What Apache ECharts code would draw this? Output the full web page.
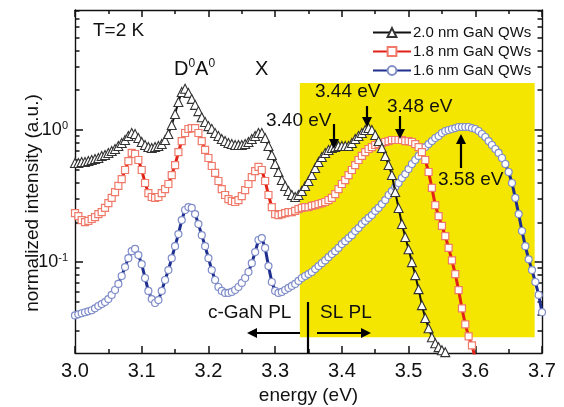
<!DOCTYPE html>
<html>
<head>
<meta charset="utf-8">
<script src="https://cdn.jsdelivr.net/npm/echarts@6/dist/echarts.min.js"></script>
<style>
html,body{margin:0;padding:0;background:#fff;}
#chart{width:564px;height:407px;}
</style>
</head>
<body>
<div id="chart"></div>
<script>
// ---- data ----
const seriesNames = ['2.0 nm GaN QWs', '1.8 nm GaN QWs', '1.6 nm GaN QWs'];
const energyStart = 3.0;   // eV, first sample
const energyStep = 0.005;  // eV, sample spacing
const xTickLabels = ['3.0','3.1','3.2','3.3','3.4','3.5','3.6','3.7'];
const yTickLabels = {0.1: '10{s|-1}', 1: '10{s|0}'};
const yMajorTicks = [0.1, 1];

// 2.0 nm GaN QWs, 3.000 ... 3.560 eV
const qw20 = [0.562,0.562,0.573,0.573,0.582,0.593,0.603,0.614,0.636,0.647,
  0.670,0.693,0.718,0.756,0.797,0.840,0.901,0.949,0.933,0.870,
  0.811,0.770,0.743,0.731,0.743,0.756,0.783,0.840,0.933,1.09,
  1.32,1.63,1.94,2.05,1.91,1.72,1.55,1.39,1.25,1.15,
  1.07,1.02,0.949,0.901,0.855,0.825,0.797,0.783,0.770,0.770,
  0.770,0.783,0.811,0.855,0.901,0.949,0.949,0.870,0.756,0.647,
  0.553,0.481,0.418,0.377,0.345,0.322,0.311,0.322,0.345,0.377,
  0.411,0.456,0.515,0.573,0.624,0.670,0.706,0.731,0.743,0.756,
  0.756,0.756,0.756,0.797,0.855,0.901,0.949,1.0,1.035,1.0,
  0.917,0.825,0.731,0.636,0.543,0.456,0.339,0.257,0.194,0.155,
  0.125,0.100,0.0797,0.0624,0.0472,0.0377,0.0316,0.0270,0.0243,0.0227,
  0.0215,0.0208,0.0197];
// 1.8 nm GaN QWs, 3.000 ... 3.600 eV
const qw18 = [0.235,0.223,0.208,0.201,0.205,0.212,0.219,0.231,0.239,0.257,
  0.280,0.306,0.339,0.377,0.425,0.498,0.582,0.670,0.658,0.593,
  0.498,0.397,0.333,0.311,0.306,0.311,0.333,0.357,0.390,0.456,
  0.543,0.681,0.825,0.949,1.018,1.035,1.035,0.949,0.825,0.706,
  0.614,0.534,0.473,0.411,0.357,0.322,0.300,0.290,0.285,0.295,
  0.316,0.351,0.390,0.440,0.489,0.525,0.498,0.411,0.322,0.261,
  0.231,0.227,0.231,0.235,0.239,0.239,0.244,0.252,0.257,0.261,
  0.261,0.266,0.270,0.275,0.280,0.285,0.295,0.306,0.327,0.357,
  0.390,0.418,0.456,0.498,0.543,0.593,0.636,0.681,0.718,0.743,
  0.770,0.783,0.797,0.811,0.825,0.840,0.840,0.840,0.840,0.825,
  0.825,0.811,0.783,0.743,0.681,0.593,0.481,0.364,0.270,0.223,
  0.188,0.157,0.128,0.103,0.0812,0.0614,0.0446,0.0338,0.0274,0.0234,
  0.0187];
// 1.6 nm GaN QWs, 3.000 ... 3.700 eV
const qw16 = [0.0395,0.0402,0.0410,0.0417,0.0424,0.0432,0.0447,0.0465,0.0481,0.0498,
  0.0525,0.0564,0.0615,0.0683,0.0785,0.0917,0.107,0.121,0.126,0.113,
  0.0965,0.0758,0.0605,0.0525,0.0490,0.0516,0.0605,0.0732,0.0870,0.107,
  0.132,0.163,0.208,0.248,0.261,0.257,0.231,0.194,0.160,0.132,
  0.107,0.0870,0.0732,0.0648,0.0605,0.0584,0.0584,0.0594,0.0615,0.0648,
  0.0695,0.0758,0.0841,0.0982,0.119,0.147,0.152,0.128,0.0933,0.0707,
  0.0605,0.0584,0.0594,0.0615,0.0637,0.0660,0.0683,0.0720,0.0758,0.0785,
  0.0812,0.0841,0.0886,0.0933,0.0982,0.103,0.109,0.115,0.121,0.128,
  0.137,0.144,0.152,0.160,0.172,0.181,0.194,0.205,0.216,0.227,
  0.244,0.257,0.275,0.295,0.322,0.345,0.370,0.397,0.433,0.464,
  0.506,0.553,0.593,0.636,0.693,0.743,0.783,0.825,0.870,0.901,
  0.949,0.983,1.000,1.018,1.035,1.054,1.054,1.054,1.054,1.035,
  1.018,0.983,0.933,0.885,0.825,0.770,0.718,0.670,0.614,0.553,
  0.481,0.397,0.306,0.231,0.172,0.132,0.105,0.0870,0.0707,0.0564,
  0.0417];
// shaded "SL PL" region (energy range, intensity range)
const slRegionE = [3.337, 3.689];
const slRegionI = [0.027, 2.27];

function toPairs(vals) {
  return vals.map((v, i) => [+(energyStart + i * energyStep).toFixed(3), v]);
}

const FONT = '"Liberation Sans", Arial, sans-serif';
const AXC = '#111';
const chart = echarts.init(document.getElementById('chart'), null, {renderer: 'canvas'});

function xAxisCfg(pos, showLabel) {
  return {
    type: 'value', position: pos, min: 3.0, max: 3.7, interval: 0.1,
    axisLine: {show: true, onZero: false, lineStyle: {color: AXC, width: 1.4}},
    axisTick: {show: true, inside: true, length: 7, lineStyle: {color: AXC, width: 1.5}},
    minorTick: {show: true, splitNumber: 2, length: 4, lineStyle: {color: AXC, width: 1.5}},
    splitLine: {show: false},
    axisLabel: {show: showLabel, margin: 8, fontSize: 20, color: AXC, fontFamily: FONT,
      formatter: v => { const i = Math.round((v - 3.0) * 10); return xTickLabels[i] || ''; }},
    name: showLabel ? 'energy (eV)' : '', nameLocation: 'middle', nameGap: 27,
    nameTextStyle: {fontSize: 19, color: AXC, fontFamily: FONT}
  };
}
function yAxisCfg(pos, showLabel) {
  return {
    type: 'log', logBase: 10, position: pos, min: 0.0205, max: 8.1,
    axisLine: {show: true, onZero: false, lineStyle: {color: AXC, width: 1.4}},
    axisTick: {show: true, inside: true, length: 8, customValues: yMajorTicks, lineStyle: {color: AXC, width: 1.5}},
    minorTick: {show: true, splitNumber: 9, length: 4.5, lineStyle: {color: AXC, width: 1.5}},
    splitLine: {show: false}, minorSplitLine: {show: false},
    axisLabel: {show: showLabel, margin: 7, fontSize: 18, color: AXC, fontFamily: FONT,
      customValues: yMajorTicks,
      formatter: v => {
        const l = Math.log10(v);
        if (Math.abs(l - Math.round(l)) > 1e-6) return '';
        const k = Math.pow(10, Math.round(l));
        return yTickLabels[k] || '';
      },
      rich: {s: {fontSize: 11, fontFamily: FONT, color: AXC, verticalAlign: 'top', padding: [0, 0, 9, 0]}}
    }
  };
}

function arrow(x1, y1, x2, y2) {
  const ang = Math.atan2(y2 - y1, x2 - x1);
  const L = 10, W = 5;
  const bx = x2 - L * Math.cos(ang), by = y2 - L * Math.sin(ang);
  const px = -Math.sin(ang) * W, py = Math.cos(ang) * W;
  return [
    {type: 'line', z: 100, shape: {x1: x1, y1: y1, x2: bx, y2: by}, style: {stroke: '#000', lineWidth: 2.2}},
    {type: 'polygon', z: 100, shape: {points: [[x2, y2], [bx + px, by + py], [bx - px, by - py]]}, style: {fill: '#000'}}
  ];
}
function label(text, x, y, size, extra) {
  return Object.assign({type: 'text', z: 100, x: x, y: y,
    style: Object.assign({text: text, fill: '#111', font: size + 'px ' + FONT, textVerticalAlign: 'middle'}, extra || {})});
}

const graphics = [
  label('T=2 K', 93, 31, 19),
  {type: 'text', z: 100, x: 174, y: 69, style: {text: 'D{s|0}A{s|0}', fill: '#111', font: '20px ' + FONT, textVerticalAlign: 'middle',
     rich: {s: {fontSize: 12, fontFamily: FONT, fill: '#111', verticalAlign: 'top', padding: [0, 0, 10, 0]}}}},
  label('X', 255, 69, 20),
  label('3.40 eV', 266, 121, 19),
  label('3.44 eV', 315, 92, 19),
  label('3.48 eV', 387, 107, 19),
  label('3.58 eV', 438, 180, 19),
  label('c-GaN PL', 208, 313, 19),
  label('SL PL', 320, 313, 19),
  {type: 'text', z: 100, x: 33, y: 203, rotation: Math.PI / 2,
    style: {text: 'normalized intensity (a.u.)', fill: '#111', font: '19px ' + FONT, textAlign: 'center', textVerticalAlign: 'middle'}},
  {type: 'line', z: 100, shape: {x1: 308, y1: 302, x2: 308, y2: 353}, style: {stroke: '#000', lineWidth: 2.2}}
].concat(
  arrow(334, 124, 334, 149),
  arrow(367, 106, 367, 127),
  arrow(400, 116, 400, 139),
  arrow(461, 168, 461, 134),
  arrow(300, 333, 247, 333),
  arrow(317, 333, 371, 333)
);

const option = {
  backgroundColor: '#fff',
  animation: false,
  grid: {left: 75, right: 22, top: 10, bottom: 54, containLabel: false, outerBoundsMode: 'none'},
  xAxis: [xAxisCfg('bottom', true), xAxisCfg('top', false)],
  yAxis: [yAxisCfg('left', true), yAxisCfg('right', false)],
  legend: {
    orient: 'vertical', left: 367, top: 20, itemWidth: 38, itemHeight: 11, itemGap: 4,
    textStyle: {fontSize: 15, color: '#111', fontFamily: FONT, padding: [0, 0, 0, -3]},
    data: seriesNames
  },
  series: [
    {type: 'line', name: '_region', data: [], z: 1, silent: true,
     markArea: {silent: true, itemStyle: {color: '#f4e600', opacity: 1},
       data: [[{coord: [slRegionE[0], slRegionI[1]]}, {coord: [slRegionE[1], slRegionI[0]]}]]}},
    {type: 'line', name: seriesNames[2], z: 3, data: toPairs(qw16), xAxisIndex: 0, yAxisIndex: 0,
     symbol: 'circle', symbolSize: 7, showAllSymbol: true,
     lineStyle: {color: '#1f2f8f', width: 3}, itemStyle: {color: '#fff', borderColor: '#7f8cc8', borderWidth: 1.2}},
    {type: 'line', name: seriesNames[1], z: 4, data: toPairs(qw18), xAxisIndex: 0, yAxisIndex: 0,
     symbol: 'rect', symbolSize: 7, showAllSymbol: true,
     lineStyle: {color: '#e2231a', width: 3}, itemStyle: {color: '#fff', borderColor: '#ef7a6a', borderWidth: 1.2}},
    {type: 'line', name: seriesNames[0], z: 5, data: toPairs(qw20), xAxisIndex: 0, yAxisIndex: 0,
     symbol: 'triangle', symbolSize: 9, showAllSymbol: true,
     lineStyle: {color: '#111', width: 2}, itemStyle: {color: '#fff', borderColor: '#333', borderWidth: 1.1}}
  ],
  graphic: {elements: graphics}
};
chart.setOption(option);
</script>
</body>
</html>
